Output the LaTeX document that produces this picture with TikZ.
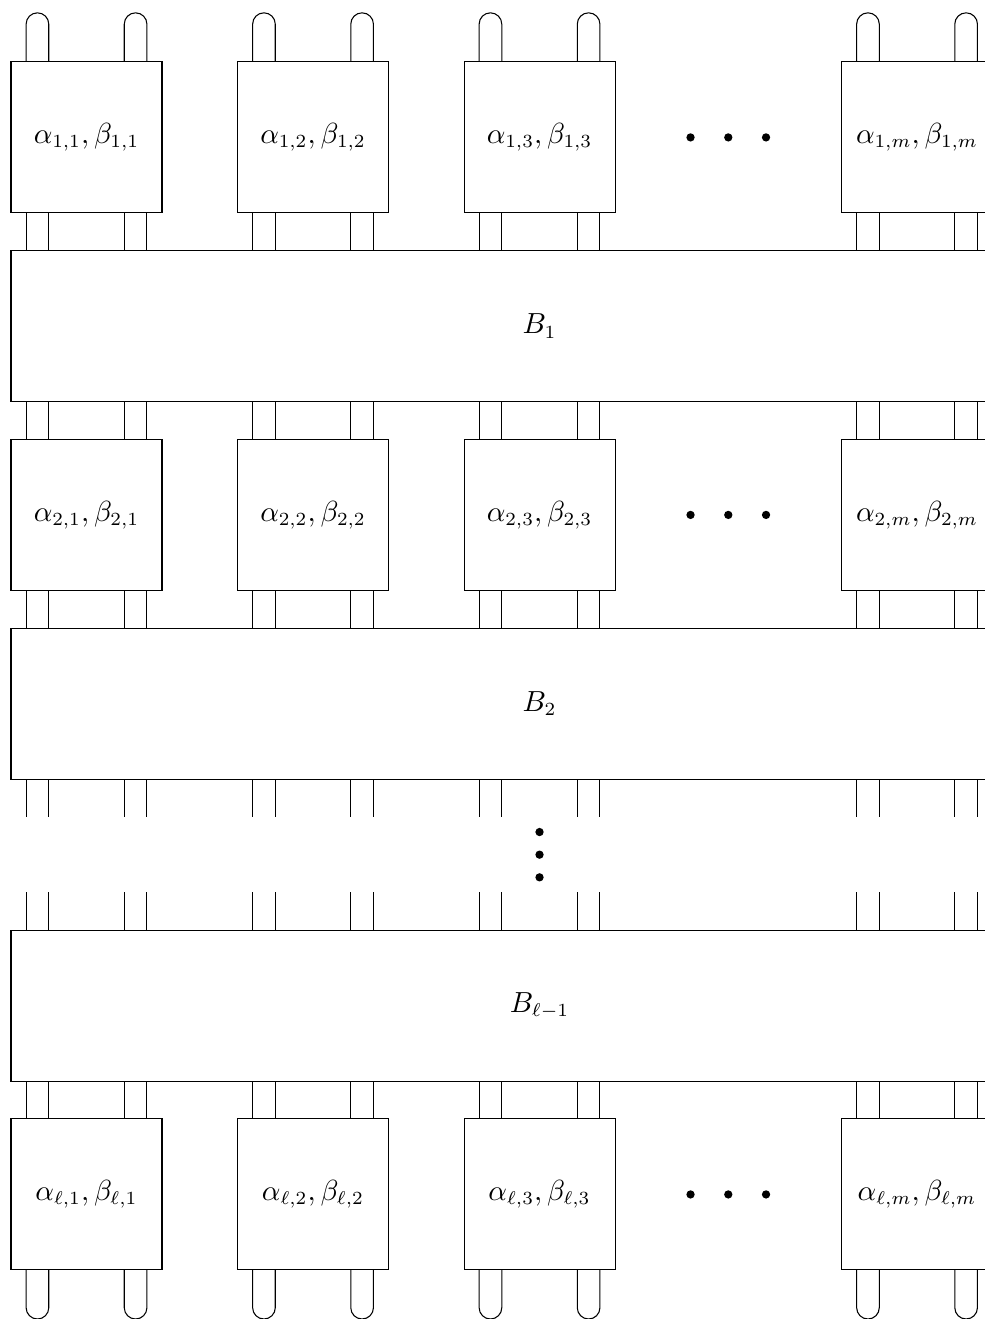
\documentclass[tikz,border=0pt]{standalone}
\usepackage{amsmath}
\usetikzlibrary{positioning}

\begin{document}
\begin{tikzpicture}[
  cell/.style={rectangle, draw, minimum width=2cm, minimum height=2cm,
               inner sep=0pt, outer sep=0pt, anchor=north west,
               font=\fontsize{10.5}{12.6}\selectfont},
  band/.style={rectangle, draw, minimum width=14cm, minimum height=2cm,
               inner sep=0pt, outer sep=0pt, anchor=north west,
               font=\fontsize{10.5}{12.6}\selectfont},
  dot/.style={circle, fill, inner sep=0pt, minimum size=0.11cm},
]
  \useasboundingbox (-0.146,0.82) rectangle (12.9,-16.65);
  \clip (-0.146,0.82) rectangle (12.9,-16.65);

  % cells
  \foreach \r/\i/\y in {1/1/0, 2/2/-5, l/\ell/-14}
    \foreach \c/\j/\x in {1/1/0, 2/2/3, 3/3/6, m/m/11}
      \node[cell] (a\r\c) at (\x,\y) {$\alpha_{\i,\j},\beta_{\i,\j}$};

  % bands
  \node[band] (B1) at (0,-2.5) {$B_1$};
  \node[band] (B2) at (0,-7.5) {$B_2$};
  \node[band] (Bl) at (0,-11.5) {$B_{\ell-1}$};

  % legs between cells and bands
  \foreach \c in {1,2,3,m} {
    \foreach \d in {0.2,0.5,1.5,1.8} {
      \draw ([xshift=\d cm]a1\c.south west) -- ([xshift=\d cm]a1\c.south west |- B1.north);
      \draw ([xshift=\d cm]a2\c.north west) -- ([xshift=\d cm]a2\c.north west |- B1.south);
      \draw ([xshift=\d cm]a2\c.south west) -- ([xshift=\d cm]a2\c.south west |- B2.north);
      \draw ([xshift=\d cm]al\c.north west) -- ([xshift=\d cm]al\c.north west |- Bl.south);
      \draw ([xshift=\d cm]a2\c.south west |- B2.south) -- ++(0,-0.5);
      \draw ([xshift=\d cm]al\c.north west |- Bl.north) -- ++(0,0.5);
    }
    % loops
    \foreach \d/\e in {0.2/0.5, 1.5/1.8} {
      \draw ([xshift=\d cm]a1\c.north west) -- ++(0,0.5)
        arc[start angle=180, end angle=0, radius=0.15] -- ([xshift=\e cm]a1\c.north west);
      \draw ([xshift=\d cm]al\c.south west) -- ++(0,-0.5)
        arc[start angle=180, end angle=360, radius=0.15] -- ([xshift=\e cm]al\c.south west);
    }
  }

  % dots
  \foreach \r/\y in {1/-1, 2/-6, l/-15}
    \foreach \k/\x in {1/9, 2/9.5, 3/10}
      \node[dot] (h\r\k) at (\x,\y) {};
  \foreach \k/\y in {1/-10.2, 2/-10.5, 3/-10.8}
    \node[dot] (v\k) at (7,\y) {};
\end{tikzpicture}
\end{document}
